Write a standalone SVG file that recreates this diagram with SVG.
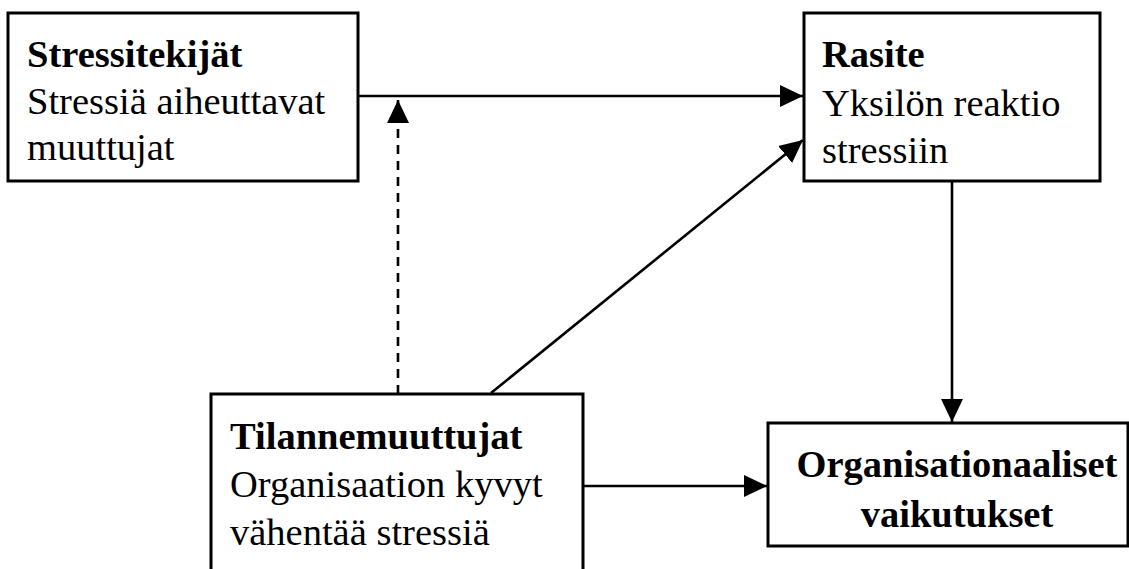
<svg xmlns="http://www.w3.org/2000/svg" width="1129" height="569" viewBox="0 0 1129 569">
<style>
.box{fill:#fff;stroke:#000;stroke-width:3}
.t{font-family:"Liberation Serif","Times New Roman",serif;font-size:38.5px;fill:#000}
.b{font-weight:bold}
.c{fill:none;stroke:#000;stroke-width:2.6}
.d{stroke-dasharray:9,7}
</style>
<defs>
<marker id="ah" markerUnits="userSpaceOnUse" markerWidth="24" markerHeight="24" viewBox="0 0 24 24" refX="23" refY="12" orient="auto">
<path d="M0,1 L23,12 L0,23 Z" fill="#000"/>
</marker>
</defs>
<rect width="1129" height="569" fill="#fff"/>
<g id="connectors">
<line class="c" x1="358" y1="96" x2="803" y2="96" marker-end="url(#ah)"/>
<line class="c d" x1="398" y1="394" x2="398" y2="100" marker-end="url(#ah)"/>
<line class="c" x1="491" y1="393" x2="803" y2="140" marker-end="url(#ah)"/>
<line class="c" x1="952" y1="181" x2="952" y2="422" marker-end="url(#ah)"/>
<line class="c" x1="583" y1="486" x2="767" y2="486" marker-end="url(#ah)"/>
</g>
<g id="stressitekijat">
<rect class="box" x="8" y="13" width="350" height="168"/>
<text class="t b" x="27" y="67">Stressitekijät</text>
<text class="t" x="27" y="114">Stressiä aiheuttavat</text>
<text class="t" x="27" y="160">muuttujat</text>
</g>
<g id="rasite">
<rect class="box" x="804" y="13" width="296" height="168"/>
<text class="t b" x="822" y="67">Rasite</text>
<text class="t" x="822" y="116">Yksilön reaktio</text>
<text class="t" x="822" y="163">stressiin</text>
</g>
<g id="tilannemuuttujat">
<rect class="box" x="211" y="394" width="372" height="190"/>
<text class="t b" x="230" y="449">Tilannemuuttujat</text>
<text class="t" x="230" y="497">Organisaation kyvyt</text>
<text class="t" x="230" y="545">vähentää stressiä</text>
</g>
<g id="organisationaaliset">
<rect class="box" x="768" y="423" width="360" height="123"/>
<text class="t b" x="957" y="477" text-anchor="middle">Organisationaaliset</text>
<text class="t b" x="957" y="527" text-anchor="middle">vaikutukset</text>
</g>
</svg>
